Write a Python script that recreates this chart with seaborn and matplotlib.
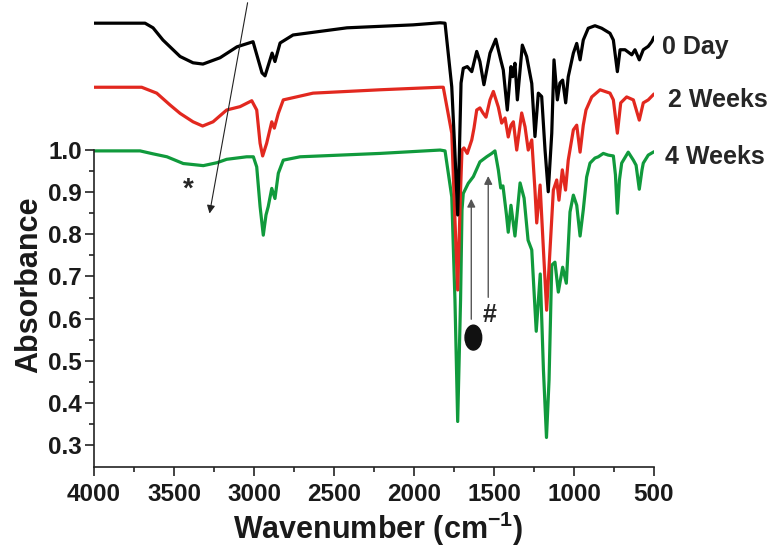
import numpy as np
import pandas as pd
import seaborn as sns
import matplotlib.pyplot as plt
from matplotlib.patches import Ellipse
from matplotlib.ticker import FormatStrFormatter

sns.set_style("ticks")
plt.rcParams['font.family'] = ['Liberation Sans', 'DejaVu Sans']
plt.rcParams['font.weight'] = 'bold'
plt.rcParams['mathtext.fontset'] = 'custom'
plt.rcParams['mathtext.bf'] = 'Liberation Sans:bold'
plt.rcParams['mathtext.rm'] = 'Liberation Sans:bold'

# 0 Day
wn_0day = [4000, 3681, 3631, 3569, 3462, 3381, 3319, 3212, 3106, 3006, 2950, 2931, 2887, 2869,
           2837, 2756, 2419, 2006, 1837, 1806, 1764, 1745, 1727, 1716, 1706, 1692, 1667, 1639,
           1608, 1588, 1563, 1525, 1489, 1458, 1442, 1417, 1394, 1383, 1369, 1354, 1323, 1296,
           1264, 1244, 1223, 1202, 1181, 1161, 1139, 1125, 1104, 1088, 1071, 1052, 1036, 1004,
           983, 962, 942, 911, 869, 827, 775, 754, 729, 712, 681, 639, 619, 592, 567, 536, 514, 500]
abs_0day = [1.301, 1.301, 1.290, 1.261, 1.222, 1.207, 1.204, 1.219, 1.245, 1.257, 1.183, 1.176,
            1.230, 1.210, 1.254, 1.273, 1.290, 1.297, 1.302, 1.301, 1.150, 1.000, 0.846, 1.000,
            1.159, 1.194, 1.198, 1.186, 1.234, 1.210, 1.155, 1.230, 1.263, 1.214, 1.190, 1.095,
            1.198, 1.174, 1.206, 1.119, 1.249, 1.222, 1.158, 1.032, 1.135, 1.127, 1.000, 0.901,
            1.040, 1.214, 1.119, 1.159, 1.166, 1.112, 1.174, 1.230, 1.253, 1.214, 1.261, 1.289,
            1.295, 1.289, 1.277, 1.261, 1.186, 1.238, 1.238, 1.226, 1.238, 1.214, 1.238, 1.246,
            1.257, 1.268]

# 2 Weeks
wn_2wk = [4000, 3702, 3608, 3525, 3462, 3381, 3321, 3256, 3171, 3087, 3014, 2983, 2962, 2946,
          2921, 2889, 2873, 2848, 2817, 2631, 2212, 1837, 1817, 1764, 1744, 1727, 1709, 1700,
          1688, 1667, 1639, 1625, 1608, 1588, 1569, 1550, 1525, 1504, 1473, 1452, 1431, 1411,
          1394, 1379, 1358, 1327, 1306, 1286, 1264, 1244, 1233, 1212, 1191, 1171, 1150, 1129,
          1108, 1094, 1073, 1053, 1036, 1004, 983, 962, 942, 925, 889, 837, 775, 754, 729, 708,
          671, 629, 592, 567, 536, 500]
abs_2wk = [1.149, 1.149, 1.135, 1.107, 1.087, 1.067, 1.057, 1.067, 1.095, 1.103, 1.117, 1.095,
           1.016, 0.986, 1.016, 1.067, 1.052, 1.087, 1.119, 1.135, 1.143, 1.149, 1.149, 1.040,
           0.834, 0.668, 0.905, 1.000, 1.005, 0.992, 1.024, 1.052, 1.095, 1.100, 1.088, 1.078,
           1.119, 1.139, 1.102, 1.064, 1.076, 1.031, 1.059, 1.067, 1.000, 1.088, 1.055, 1.000,
           1.024, 0.905, 0.827, 0.917, 0.763, 0.620, 0.763, 0.905, 0.929, 0.881, 0.953, 0.905,
           0.976, 1.048, 1.059, 0.995, 1.059, 1.095, 1.126, 1.143, 1.135, 1.119, 1.040, 1.112,
           1.126, 1.119, 1.071, 1.112, 1.119, 1.133]

# 4 Weeks
wn_4wk = [4000, 3712, 3631, 3544, 3442, 3317, 3231, 3171, 3046, 3004, 2983, 2962, 2942, 2925,
          2911, 2889, 2869, 2848, 2817, 2712, 2212, 1837, 1806, 1764, 1744, 1727, 1709, 1700,
          1692, 1661, 1629, 1588, 1546, 1514, 1494, 1473, 1458, 1444, 1422, 1411, 1394, 1369,
          1337, 1312, 1287, 1264, 1236, 1211, 1191, 1172, 1156, 1139, 1119, 1098, 1071, 1048,
          1025, 1004, 983, 962, 942, 921, 900, 869, 848, 817, 786, 754, 741, 729, 716, 702, 661,
          629, 612, 592, 575, 567, 536, 500]
abs_4wk = [0.998, 0.998, 0.991, 0.984, 0.968, 0.963, 0.970, 0.978, 0.984, 0.984, 0.960, 0.866,
           0.798, 0.846, 0.866, 0.909, 0.885, 0.945, 0.976, 0.984, 0.992, 1.000, 0.998, 0.889,
           0.644, 0.356, 0.644, 0.858, 0.897, 0.921, 0.937, 0.972, 0.984, 0.992, 0.998, 0.953,
           0.910, 0.915, 0.846, 0.805, 0.869, 0.796, 0.922, 0.886, 0.786, 0.763, 0.570, 0.706,
           0.478, 0.318, 0.454, 0.727, 0.734, 0.663, 0.722, 0.684, 0.853, 0.893, 0.869, 0.796,
           0.858, 0.936, 0.969, 0.981, 0.984, 0.992, 0.988, 0.986, 0.941, 0.850, 0.929, 0.969,
           0.995, 0.976, 0.964, 0.907, 0.953, 0.969, 0.988, 0.996]

series = [
    ("4 Weeks", wn_4wk, abs_4wk, "#109a3c", (431, 0.983)),
    ("2 Weeks", wn_2wk, abs_2wk, "#e2281f", (412, 1.119)),
    ("0 Day", wn_0day, abs_0day, "#000000", (450, 1.245)),
]

fig = plt.figure(figsize=(7.74, 5.54), dpi=100)
ax = fig.add_axes([94 / 774, 87 / 554, 560 / 774, 467 / 554])

for name, wn, ab, col, pos in series:
    df = pd.DataFrame({"wn": wn, "abs": ab})
    sns.lineplot(data=df, x="wn", y="abs", color=col, lw=2.3, sort=False,
                 estimator=None, ax=ax, solid_joinstyle='round', solid_capstyle='round')
    ax.text(pos[0], pos[1], name, fontsize=18, fontweight='bold', va='center', ha='left')

ax.set_xlim(4000, 500)
ax.set_ylim(0.248, 1.356)

ax.set_xticks([4000, 3500, 3000, 2500, 2000, 1500, 1000, 500])
ax.set_xticks([3750, 3250, 2750, 2250, 1750, 1250, 750], minor=True)
ax.set_yticks([0.3, 0.4, 0.5, 0.6, 0.7, 0.8, 0.9, 1.0])
ax.set_yticks([0.35, 0.45, 0.55, 0.65, 0.75, 0.85, 0.95], minor=True)
ax.yaxis.set_major_formatter(FormatStrFormatter('%.1f'))

for s in ['top', 'right']:
    ax.spines[s].set_visible(False)
ax.spines['left'].set_bounds(0.248, 1.0)
for s in ['left', 'bottom']:
    ax.spines[s].set_linewidth(1.2)
    ax.spines[s].set_color('#222222')

ax.tick_params(axis='both', which='major', direction='out', length=6.5, width=1.2,
               labelsize=17.5, colors='#222222', labelcolor='#1a1a1a')
ax.tick_params(axis='both', which='minor', direction='out', length=3.5, width=1.2,
               colors='#222222')
ax.tick_params(axis='y', which='major', pad=2)
ax.tick_params(axis='x', which='major', pad=5)
for lab in ax.get_xticklabels() + ax.get_yticklabels():
    lab.set_fontweight('bold')

ax.set_xlabel(r'Wavenumber (cm$^{\mathbf{-1}}$)', fontsize=22, fontweight='bold', color='#1a1a1a')
ax.set_ylabel('Absorbance', fontsize=22, fontweight='bold', color='#1a1a1a')
ax.xaxis.set_label_coords(0.507, -0.092)
ax.yaxis.set_label_coords(-0.088, 0.39)

# annotations
ax.annotate('', xy=(3281, 0.843), xytext=(3037, 1.356),
            arrowprops=dict(arrowstyle='-|>', lw=0.8, color='#222222', mutation_scale=12),
            annotation_clip=False)
ax.text(3412, 0.905, '*', fontsize=20, fontweight='bold', ha='center', va='center')
ax.annotate('', xy=(1642, 0.891), xytext=(1642, 0.592),
            arrowprops=dict(arrowstyle='-|>', lw=1.0, color='#555555', mutation_scale=12))
ax.annotate('', xy=(1536, 0.945), xytext=(1536, 0.644),
            arrowprops=dict(arrowstyle='-|>', lw=1.0, color='#555555', mutation_scale=12))
ax.add_patch(Ellipse((1629, 0.555), width=104, height=0.059, color='#111111'))
ax.text(1529, 0.608, '#', fontsize=18, fontweight='bold', ha='center', va='center')

fig.savefig('out.png', dpi=100)
